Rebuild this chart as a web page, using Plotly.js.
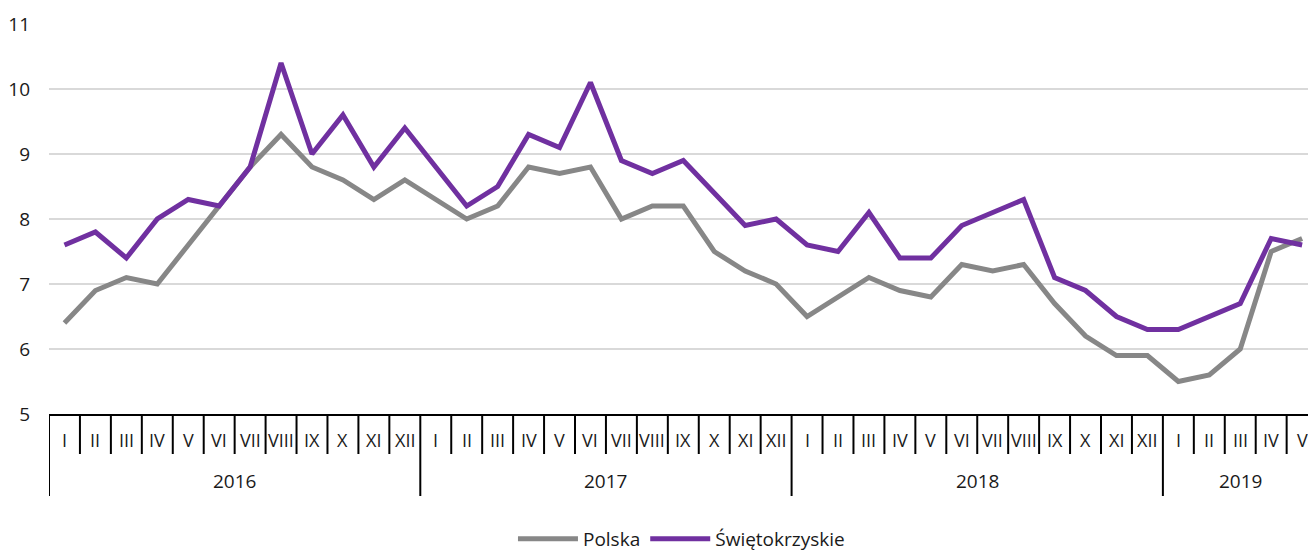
<!DOCTYPE html>
<html>
<head>
<meta charset="utf-8">
<script src="https://cdn.plot.ly/plotly-3.0.1.min.js"></script>
<style>
html,body{margin:0;padding:0;overflow:hidden;background:#fff;}
#chart{width:1308px;height:553px;}
</style>
</head>
<body>
<div id="chart"></div>
<script>
var years = ["2016", "2017", "2018", "2019"];
var monthsPerYear = [12, 12, 12, 5];
var monthNames = ["I","II","III","IV","V","VI","VII","VIII","IX","X","XI","XII"];

var polska = [
  6.4, 6.9, 7.1, 7.0, 7.6, 8.2, 8.8, 9.3, 8.8, 8.6, 8.3, 8.6,
  8.3, 8.0, 8.2, 8.8, 8.7, 8.8, 8.0, 8.2, 8.2, 7.5, 7.2, 7.0,
  6.5, 6.8, 7.1, 6.9, 6.8, 7.3, 7.2, 7.3, 6.7, 6.2, 5.9, 5.9,
  5.5, 5.6, 6.0, 7.5, 7.7
];
var swietokrzyskie = [
  7.6, 7.8, 7.4, 8.0, 8.3, 8.2, 8.8, 10.4, 9.0, 9.6, 8.8, 9.4,
  8.8, 8.2, 8.5, 9.3, 9.1, 10.1, 8.9, 8.7, 8.9, 8.4, 7.9, 8.0,
  7.6, 7.5, 8.1, 7.4, 7.4, 7.9, 8.1, 8.3, 7.1, 6.9, 6.5, 6.3,
  6.3, 6.5, 6.7, 7.7, 7.6
];

var FONT = "'Open Sans', sans-serif";
var TXT = "#1a1a1a";

// build month labels / indices from the arrays
var monthLabels = [], xIdx = [], yearStart = [];
var k = 0;
years.forEach(function (y, yi) {
  yearStart.push(k);
  for (var m = 0; m < monthsPerYear[yi]; m++) {
    monthLabels.push(monthNames[m]);
    xIdx.push(k);
    k++;
  }
});
var nCat = k;

var PLOT_H = 390;
function py(px) { return -px / PLOT_H; }

var shapes = [], annotations = [];
// month separators
for (var b = 0; b <= nCat; b++) {
  var isYear = yearStart.indexOf(b) >= 0 || b === nCat;
  shapes.push({
    type: "line", xref: "x", yref: "paper",
    x0: b - 0.5, x1: b - 0.5, y0: 0, y1: isYear ? py(82) : py(40),
    line: {color: "#000", width: 2}
  });
}
// month labels
monthLabels.forEach(function (lab, i) {
  annotations.push({
    x: xIdx[i], y: py(26), xref: "x", yref: "paper",
    text: lab, showarrow: false, xanchor: "center", yanchor: "middle",
    font: {family: FONT, size: 18, color: TXT}
  });
});
// year labels
years.forEach(function (yr, yi) {
  var c = yearStart[yi] + (monthsPerYear[yi] - 1) / 2;
  annotations.push({
    x: c, y: py(67), xref: "x", yref: "paper",
    text: yr, showarrow: false, xanchor: "center", yanchor: "middle",
    font: {family: FONT, size: 19, color: TXT}
  });
});

var traces = [
  {x: xIdx, y: polska, name: "Polska", type: "scatter", mode: "lines",
   line: {color: "#878787", width: 5}},
  {x: xIdx, y: swietokrzyskie, name: "Świętokrzyskie", type: "scatter", mode: "lines",
   line: {color: "#7030A0", width: 5}}
];

var layout = {
  width: 1308, height: 553,
  margin: {l: 49, r: 0, t: 24, b: 139, pad: 0, autoexpand: false},
  paper_bgcolor: "#fff", plot_bgcolor: "#fff",
  font: {family: FONT, size: 18, color: TXT},
  showlegend: true,
  legend: {orientation: "h", xref: "container", yref: "container",
           x: 0.521, xanchor: "center", y: 14 / 553, yanchor: "middle",
           font: {family: FONT, size: 19, color: TXT}, itemwidth: 60, tracegroupgap: 0,
           bgcolor: "rgba(0,0,0,0)"},
  xaxis: {range: [-0.5, 40.19], showticklabels: false, showgrid: false, zeroline: false,
          showline: true, linecolor: "#000", linewidth: 2, ticks: "", fixedrange: true},
  yaxis: {range: [5, 11], dtick: 1, tick0: 5, showgrid: true, gridcolor: "#d9d9d9", gridwidth: 2,
          zeroline: false, showline: false, ticks: "", ticklabelstandoff: 18,
          tickfont: {family: FONT, size: 19, color: TXT}, fixedrange: true},
  shapes: shapes,
  annotations: annotations
};

Plotly.newPlot("chart", traces, layout, {displayModeBar: false, staticPlot: true});
</script>
</body>
</html>
